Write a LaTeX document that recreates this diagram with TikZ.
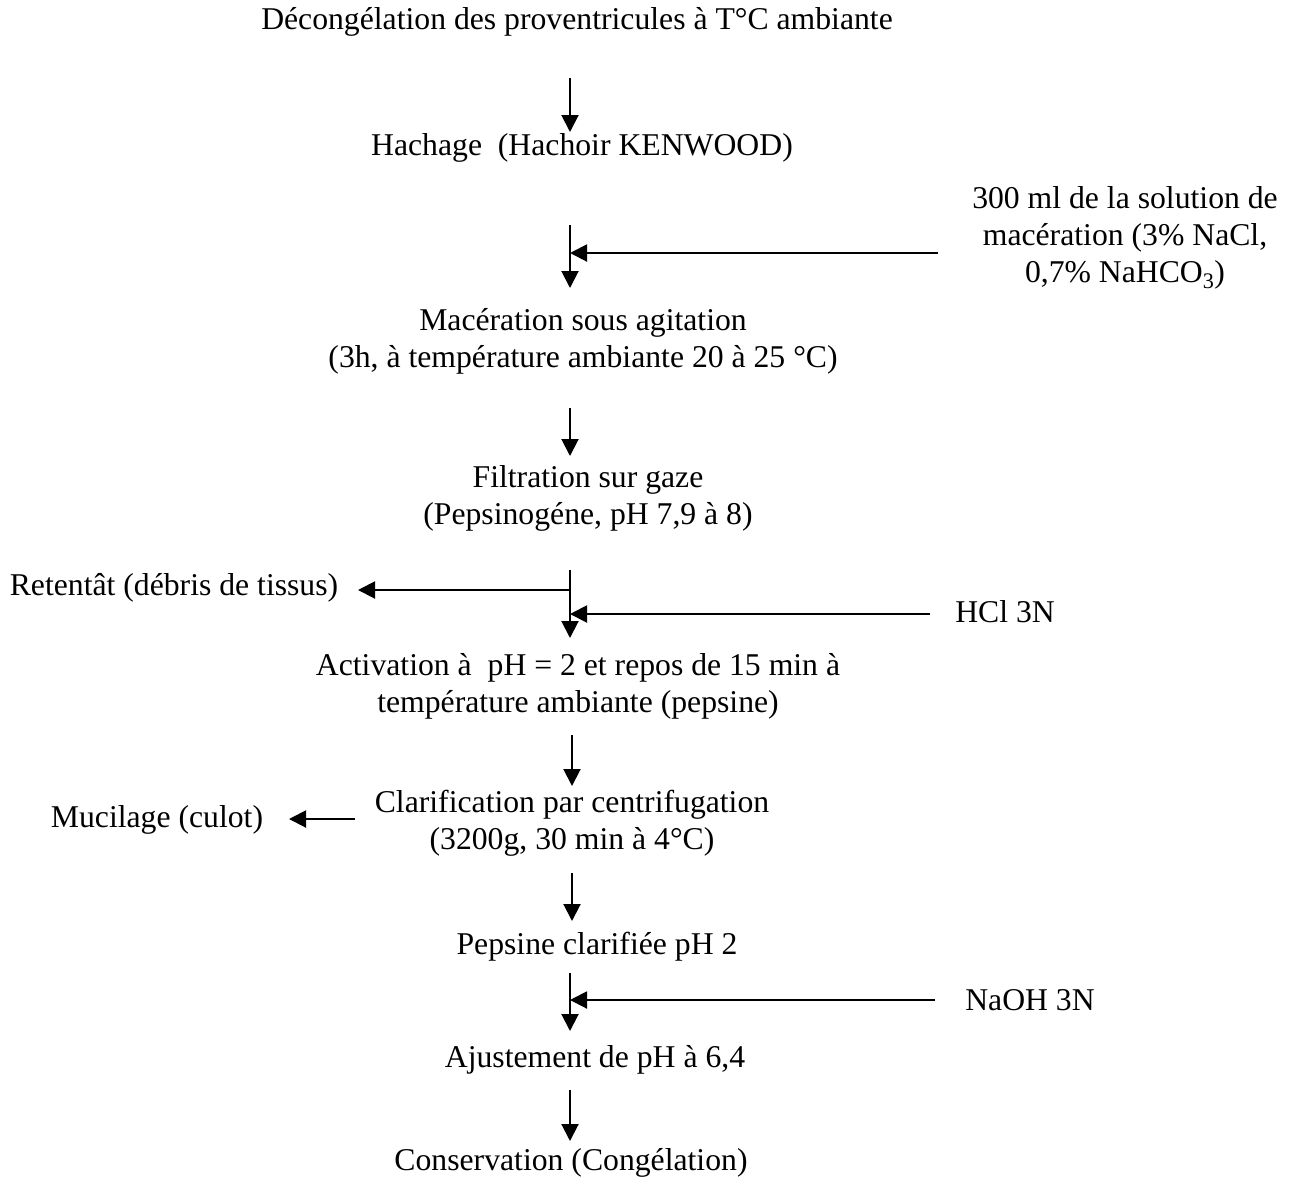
\documentclass[tikz,border=0pt]{standalone}
\usepackage{fontspec}
\setmainfont{Liberation Serif}
\usetikzlibrary{arrows.meta}
\begin{document}
\begin{tikzpicture}[x=1pt,y=-1pt,
  lbl/.style={inner sep=0pt, align=center, font=\fontsize{31.7}{37}\selectfont},
  arr/.style={line width=2pt, -{Triangle[length=17pt,width=17pt]}},
  ln/.style={line width=2pt}]
\useasboundingbox[fill=white] (0,0) rectangle (1301,1184);
\node[lbl] (t1) at (577,22) {Décongélation des proventricules à T°C ambiante};
\node[lbl] (t2) at (582,148) {Hachage\ \ (Hachoir KENWOOD)};
\node[lbl] (s1) at (1125,238) {300 ml de la solution de\\macération (3\% NaCl,\\0,7\% NaHCO\textsubscript{3})};
\node[lbl] (t3) at (583,341) {Macération sous agitation\\(3h, à température ambiante 20 à 25 °C)};
\node[lbl] (t4) at (588,498) {Filtration sur gaze\\(Pepsinogéne, pH 7,9 à 8)};
\node[lbl] (r1) at (174,588) {Retentât (débris de tissus)};
\node[lbl] (s2) at (1005,612) {HCl 3N};
\node[lbl] (t5) at (578,686) {Activation à\ \ pH = 2 et repos de 15 min à\\température ambiante (pepsine)};
\node[lbl] (t6) at (572,823) {Clarification par centrifugation\\(3200g, 30 min à 4°C)};
\node[lbl] (r2) at (157,820) {Mucilage (culot)};
\node[lbl] (t7) at (597,947) {Pepsine clarifiée pH 2};
\node[lbl] (s3) at (1030,1000) {NaOH 3N};
\node[lbl] (t8) at (595,1060) {Ajustement de pH à 6,4};
\node[lbl] (t9) at (571,1163) {Conservation (Congélation)};
% coordinates
\coordinate (a1s) at (570,78); \coordinate (a1e) at (570,132);
\coordinate (a2s) at (570,225); \coordinate (a2e) at (570,288);
\coordinate (a2m) at (570,253); \coordinate (b2) at (938,253);
\coordinate (a3s) at (570,408); \coordinate (a3e) at (570,456);
\coordinate (a4s) at (570,570); \coordinate (a4e) at (570,638);
\coordinate (a4l) at (570,590); \coordinate (c4l) at (358,590);
\coordinate (a4r) at (570,614); \coordinate (b4r) at (930,614);
\coordinate (a5s) at (572,735); \coordinate (a5e) at (572,786);
\coordinate (c6s) at (355,819); \coordinate (c6e) at (289,819);
\coordinate (a6s) at (572,873); \coordinate (a6e) at (572,921);
\coordinate (a7s) at (570,973); \coordinate (a7e) at (570,1031);
\coordinate (a7m) at (570,1000); \coordinate (b7) at (935,1000);
\coordinate (a8s) at (570,1090); \coordinate (a8e) at (570,1141);
\draw[arr] (a1s) -- (a1e);
\draw[arr] (a2s) -- (a2e);
\draw[arr] (b2) -- (a2m);
\draw[arr] (a3s) -- (a3e);
\draw[arr] (a4s) -- (a4e);
\draw[arr] (a4l) -- (c4l);
\draw[arr] (b4r) -- (a4r);
\draw[arr] (a5s) -- (a5e);
\draw[arr] (c6s) -- (c6e);
\draw[arr] (a6s) -- (a6e);
\draw[arr] (a7s) -- (a7e);
\draw[arr] (b7) -- (a7m);
\draw[arr] (a8s) -- (a8e);
\end{tikzpicture}
\end{document}
